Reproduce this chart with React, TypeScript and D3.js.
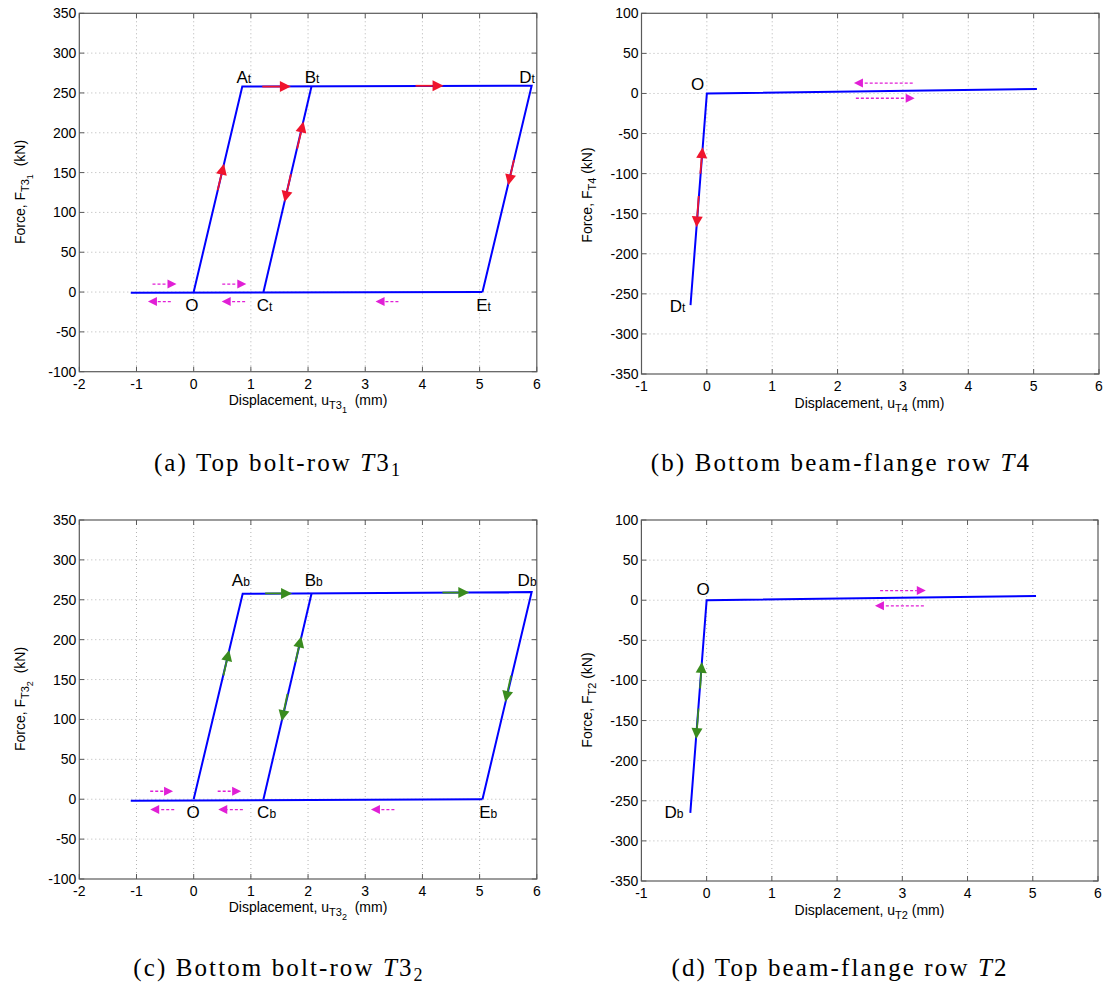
import React from "react";
import * as d3 from "d3";

// ---------------- Data ----------------
const xTicksBolt = [-2, -1, 0, 1, 2, 3, 4, 5, 6];
const yTicksBolt = [-100, -50, 0, 50, 100, 150, 200, 250, 300, 350];
const xTicksFlange = [-1, 0, 1, 2, 3, 4, 5, 6];
const yTicksFlange = [-350, -300, -250, -200, -150, -100, -50, 0, 50, 100];

// (a) top bolt-row T3_1
const aBase = [[-1.1, -1], [5.05, 0]];
const aLoop = [[0, 0], [0.85, 258], [5.91, 259], [5.05, 0]];
const aReload = [[1.22, 0], [2.06, 258]];
const aArrows = [
  [0.42, 128, 0.53, 161],
  [1.2, 258, 1.7, 258],
  [1.81, 180, 1.92, 214],
  [1.7, 148, 1.59, 113],
  [3.88, 259, 4.37, 259],
  [5.6, 166, 5.5, 134],
];
const aFlow = [
  [-0.72, 10, -0.3, 10],
  [0.5, 10, 0.92, 10],
  [-0.4, -12, -0.8, -12],
  [0.9, -12, 0.49, -12],
  [3.58, -12, 3.18, -12],
];
const aPoints = [
  { t: "A", s: "t", x: 0.877, y: 270 },
  { t: "B", s: "t", x: 2.07, y: 270 },
  { t: "D", s: "t", x: 5.83, y: 270 },
  { t: "O", s: "", x: -0.03, y: -16 },
  { t: "C", s: "t", x: 1.24, y: -16 },
  { t: "E", s: "t", x: 5.07, y: -16 },
];

// (b) bottom beam-flange row T4
const bLine = [[-0.25, -264], [0, 0], [5.05, 5.5]];
const bArrows = [
  [-0.1, -100, -0.065, -67],
  [-0.125, -128, -0.158, -167],
];
const bFlow = [
  [3.15, 13, 2.25, 13],
  [2.28, -6, 3.18, -6],
];
const bPoints = [
  { t: "O", s: "", x: -0.143, y: 12.4 },
  { t: "D", s: "t", x: -0.45, y: -265 },
];

// (c) bottom bolt-row T3_2
const cBase = [[-1.1, -2], [5.05, 0]];
const cLoop = [[0, 0], [0.857, 257.6], [5.91, 259.7], [5.05, 0]];
const cReload = [[1.22, 0], [2.06, 257.6]];
const cArrows = [
  [0.52, 155, 0.62, 187],
  [1.25, 258, 1.72, 258],
  [1.78, 172, 1.88, 204],
  [1.64, 132, 1.54, 98],
  [4.35, 259, 4.82, 259],
  [5.55, 155, 5.45, 122],
];
const cFlow = [
  [-0.76, 10, -0.36, 10],
  [0.42, 10, 0.83, 10],
  [-0.34, -13, -0.76, -13],
  [0.86, -13, 0.43, -13],
  [3.51, -13, 3.1, -13],
];
const cPoints = [
  { t: "A", s: "b", x: 0.825, y: 275 },
  { t: "B", s: "b", x: 2.1, y: 275 },
  { t: "D", s: "b", x: 5.83, y: 275 },
  { t: "O", s: "", x: -0.01, y: -16.4 },
  { t: "C", s: "b", x: 1.275, y: -16.4 },
  { t: "E", s: "b", x: 5.15, y: -16.4 },
];

// (d) top beam-flange row T2
const dLine = [[-0.25, -265], [0, 0], [5.05, 5.3]];
const dArrows = [
  [-0.1, -110, -0.073, -77],
  [-0.125, -135, -0.16, -173],
];
const dFlow = [
  [2.66, 12, 3.36, 12],
  [3.33, -7, 2.58, -7],
];
const dPoints = [
  { t: "O", s: "", x: -0.053, y: 13.6 },
  { t: "D", s: "b", x: -0.5, y: -263.7 },
];

// ---------------- Styles ----------------
const SANS = "'Liberation Sans', Arial, Helvetica, sans-serif";
const SERIF = "'Liberation Serif', 'Times New Roman', serif";
const BLUE = "#0000ff";
const RED = "#f0142d";
const GREEN = "#3a8c1e";
const MAGENTA = "#e11fd6";
const AXIS = "#5a5a5a";

type Box = { l: number; r: number; t: number; b: number };

function head(x1: number, y1: number, x2: number, y2: number, L: number, W: number) {
  const dx = x2 - x1, dy = y2 - y1;
  const len = Math.hypot(dx, dy) || 1;
  const ux = dx / len, uy = dy / len;
  const nx = -uy, ny = ux;
  const bx = x2 - ux * L, by = y2 - uy * L;
  return {
    bx,
    by,
    pts: `${x2},${y2} ${bx + nx * W},${by + ny * W} ${bx - nx * W},${by - ny * W}`,
  };
}

function Panel(props: {
  box: Box;
  xDom: number[];
  yDom: number[];
  xTicks: number[];
  yTicks: number[];
  lines: number[][][];
  arrows: number[][];
  arrowColor: string;
  flows: number[][];
  points: { t: string; s: string; x: number; y: number }[];
  xSub: string;
  xSubSub: string;
  xLabelPos: number[];
  yLabelPos: number[];
}) {
  const { box, xDom, yDom, xTicks, yTicks, lines, arrows, arrowColor, flows, points } = props;
  const x = d3.scaleLinear().domain(xDom).range([box.l, box.r]);
  const y = d3.scaleLinear().domain(yDom).range([box.b, box.t]);
  const line = d3
    .line<number[]>()
    .x((d) => x(d[0]))
    .y((d) => y(d[1]));
  const tl = 5;
  return (
    <g>
      {xTicks
        .filter((t) => t !== xDom[0] && t !== xDom[1])
        .map((t) => (
          <line key={"gx" + t} x1={x(t)} x2={x(t)} y1={box.t} y2={box.b} stroke="#b4b4b4" strokeWidth={1} strokeDasharray="1 3" />
        ))}
      {yTicks
        .filter((t) => t !== yDom[0] && t !== yDom[1])
        .map((t) => (
          <line key={"gy" + t} y1={y(t)} y2={y(t)} x1={box.l} x2={box.r} stroke="#b4b4b4" strokeWidth={1} strokeDasharray="1 3" />
        ))}
      {xTicks.map((t) => (
        <g key={"tx" + t}>
          <line x1={x(t)} x2={x(t)} y1={box.b} y2={box.b - tl} stroke={AXIS} />
          <line x1={x(t)} x2={x(t)} y1={box.t} y2={box.t + tl} stroke={AXIS} />
          <text x={x(t)} y={box.b + 17} textAnchor="middle" fontFamily={SANS} fontSize={14} fill="#000">
            {t}
          </text>
        </g>
      ))}
      {yTicks.map((t) => (
        <g key={"ty" + t}>
          <line x1={box.l} x2={box.l + tl} y1={y(t)} y2={y(t)} stroke={AXIS} />
          <line x1={box.r} x2={box.r - tl} y1={y(t)} y2={y(t)} stroke={AXIS} />
          <text x={box.l - 3} y={y(t)} dy="0.36em" textAnchor="end" fontFamily={SANS} fontSize={14} fill="#000">
            {t}
          </text>
        </g>
      ))}
      <rect x={box.l} y={box.t} width={box.r - box.l} height={box.b - box.t} fill="none" stroke={AXIS} strokeWidth={1.2} />
      {lines.map((ln, i) => (
        <path key={"ln" + i} d={line(ln) || ""} fill="none" stroke={BLUE} strokeWidth={2} strokeLinejoin="miter" />
      ))}
      {arrows.map((a, i) => {
        const x1 = x(a[0]), y1 = y(a[1]), x2 = x(a[2]), y2 = y(a[3]);
        const h = head(x1, y1, x2, y2, 11, 5.5);
        return (
          <g key={"ar" + i}>
            <line x1={x1} y1={y1} x2={h.bx} y2={h.by} stroke={arrowColor} strokeWidth={1.8} />
            <polygon points={h.pts} fill={arrowColor} />
          </g>
        );
      })}
      {flows.map((a, i) => {
        const x1 = x(a[0]), y1 = y(a[1]), x2 = x(a[2]), y2 = y(a[3]);
        const h = head(x1, y1, x2, y2, 9, 4.5);
        return (
          <g key={"fl" + i}>
            <line x1={x1} y1={y1} x2={h.bx} y2={h.by} stroke={MAGENTA} strokeWidth={1.3} strokeDasharray="3 2" />
            <polygon points={h.pts} fill={MAGENTA} />
          </g>
        );
      })}
      {points.map((p, i) => (
        <text key={"pt" + i} x={x(p.x)} y={y(p.y)} dy="0.36em" textAnchor="middle" fontFamily={SANS} fontSize={17} fill="#000">
          {p.t}
          {p.s ? <tspan fontSize={12}>{p.s}</tspan> : null}
        </text>
      ))}
      <text x={props.xLabelPos[0]} y={props.xLabelPos[1]} textAnchor="middle" fontFamily={SANS} fontSize={14} fill="#000">
        Displacement, u
        <tspan fontSize={11} dy={4}>
          {props.xSub}
        </tspan>
        {props.xSubSub ? (
          <tspan fontSize={9} dy={4}>
            {props.xSubSub}
          </tspan>
        ) : null}
        <tspan fontSize={14} dy={props.xSubSub ? -8 : -4}>
          {props.xSubSub ? "\u00a0 (mm)" : " (mm)"}
        </tspan>
      </text>
      <text
        transform={`translate(${props.yLabelPos[0]},${props.yLabelPos[1]}) rotate(-90)`}
        textAnchor="middle"
        fontFamily={SANS}
        fontSize={14}
        fill="#000"
      >
        Force, F
        <tspan fontSize={11} dy={4}>
          {props.xSub}
        </tspan>
        {props.xSubSub ? (
          <tspan fontSize={9} dy={4}>
            {props.xSubSub}
          </tspan>
        ) : null}
        <tspan fontSize={14} dy={props.xSubSub ? -8 : -4}>
          {props.xSubSub ? "\u00a0 (kN)" : " (kN)"}
        </tspan>
      </text>
    </g>
  );
}

function Caption({ x, y, label, text, sym, sub }: { x: number; y: number; label: string; text: string; sym: string; sub: string }) {
  return (
    <text x={x} y={y} textAnchor="middle" fontFamily={SERIF} fontSize={25} letterSpacing={2.1} fill="#000">
      {`(${label}) ${text} `}
      <tspan fontStyle="italic">T</tspan>
      {sym}
      {sub ? (
        <tspan fontSize={18} dy={5}>
          {sub}
        </tspan>
      ) : null}
    </text>
  );
}

export default function App() {
  return (
    <svg
      width={1111}
      height={987}
      viewBox="0 0 1111 987"
      style={{ position: "absolute", left: 0, top: 0, background: "#fff" }}
    >
      <rect x={0} y={0} width={1111} height={987} fill="#fff" />
      <Panel
        box={{ l: 79.3, r: 536.8, t: 13.3, b: 371.7 }}
        xDom={[-2, 6]}
        yDom={[-100, 350]}
        xTicks={xTicksBolt}
        yTicks={yTicksBolt}
        lines={[aBase, aLoop, aReload]}
        arrows={aArrows}
        arrowColor={RED}
        flows={aFlow}
        points={aPoints}
        xSub="T3"
        xSubSub="1"
        xLabelPos={[308, 405]}
        yLabelPos={[25, 192]}
      />
      <Panel
        box={{ l: 641.5, r: 1099, t: 13.3, b: 374 }}
        xDom={[-1, 6]}
        yDom={[-350, 100]}
        xTicks={xTicksFlange}
        yTicks={yTicksFlange}
        lines={[bLine]}
        arrows={bArrows}
        arrowColor={RED}
        flows={bFlow}
        points={bPoints}
        xSub="T4"
        xSubSub=""
        xLabelPos={[869.5, 408]}
        yLabelPos={[592, 195]}
      />
      <Panel
        box={{ l: 79.3, r: 536.8, t: 520, b: 879 }}
        xDom={[-2, 6]}
        yDom={[-100, 350]}
        xTicks={xTicksBolt}
        yTicks={yTicksBolt}
        lines={[cBase, cLoop, cReload]}
        arrows={cArrows}
        arrowColor={GREEN}
        flows={cFlow}
        points={cPoints}
        xSub="T3"
        xSubSub="2"
        xLabelPos={[308, 912]}
        yLabelPos={[25, 699]}
      />
      <Panel
        box={{ l: 641.4, r: 1098, t: 520, b: 881 }}
        xDom={[-1, 6]}
        yDom={[-350, 100]}
        xTicks={xTicksFlange}
        yTicks={yTicksFlange}
        lines={[dLine]}
        arrows={dArrows}
        arrowColor={GREEN}
        flows={dFlow}
        points={dPoints}
        xSub="T2"
        xSubSub=""
        xLabelPos={[869.5, 915]}
        yLabelPos={[592, 700]}
      />
      <Caption x={278} y={471} label="a" text="Top bolt-row" sym="3" sub="1" />
      <Caption x={841} y={471} label="b" text="Bottom beam-flange row" sym="4" sub="" />
      <Caption x={279} y={976} label="c" text="Bottom bolt-row" sym="3" sub="2" />
      <Caption x={840} y={976} label="d" text="Top beam-flange row" sym="2" sub="" />
    </svg>
  );
}
